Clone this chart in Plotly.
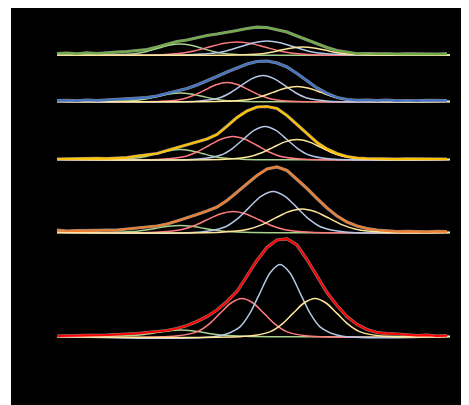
import plotly.graph_objects as go

# ---------------- data ----------------
# x grid of the measured (noisy) spectra
main_x = [57, 67, 77, 87, 97, 107, 117, 127, 137, 147, 157, 167, 177, 187, 197, 207, 217, 227, 237, 247,
          257, 267, 277, 287, 297, 307, 317, 327, 337, 347, 357, 367, 377, 387, 397, 407, 417, 427, 437, 447]

green_main = [1.5, 1.8, 1.2, 2.2, 1.5, 2.5, 2.8, 3.5, 4.5, 5.5, 8, 11, 13.5, 15, 17.5, 19.5, 21, 22.5, 24.5, 26.5,
              27.8, 27.5, 25.5, 23, 19, 15, 11.5, 7.5, 4.5, 2.5, 1.2, 1.5, 1, 1.3, 0.8, 1.2, 0.9, 1.2, 0.8, 1.1]
blue_main = [0.8, 1.2, 0.6, 1.3, 0.9, 1.5, 1.4, 2, 2.8, 3.8, 5.5, 8, 10.5, 13, 16.5, 20.5, 25, 29.5, 33.5, 37.5,
             40, 40.5, 38.5, 34.5, 28, 20.5, 13.5, 8, 4, 2, 1.2, 1.4, 0.8, 1.3, 0.7, 1, 0.6, 1.2, 0.7, 0.9]
yellow_main = [0.5, 0.8, 0.4, 1, 1.2, 0.8, 1.5, 1.8, 3.5, 4.5, 6, 9, 12, 15, 17.5, 20.5, 25, 33, 42, 48.5,
               52.5, 53, 51, 44, 35, 26, 17, 10.5, 6, 3, 1.5, 1, 0.6, 0.9, 0.4, 0.7, 0.5, 0.8, 0.3, 0.5]
orange_main = [2.5, 1.5, 1.8, 1.6, 2.2, 2.5, 2.3, 3.5, 4.2, 5.5, 6.5, 8.5, 11.5, 14.5, 18, 21.5, 25.5, 32, 40, 49,
               57, 63.5, 65.5, 62, 53.5, 44, 34, 24.5, 16.5, 10.5, 6.5, 4, 2.5, 1.5, 0.8, 1.2, 0.9, 0.7, 1.2, 0.9]
red_main = [0.5, 0.3, 0.8, 1.2, 1, 1.5, 2, 2.3, 3, 4, 5, 6, 8, 11, 15, 20, 26.5, 35, 45, 61,
            76, 89, 96.5, 97.5, 91.5, 77, 60, 44, 31, 20, 12, 7, 4, 2.8, 2.5, 1.5, 1, 1.3, 0.5, 0.8]

# fitted components (x positions, heights) per spectrum
green_c1_x = [57, 114, 136, 147, 158, 169, 180, 191, 202, 213, 224, 246, 450]
green_c1_y = [0, 0.1, 1.5, 3.6, 6.7, 9.7, 11, 9.7, 6.7, 3.6, 1.5, 0.1, 0]
green_c2_x = [57, 153, 181, 195, 209, 223, 237, 251, 265, 279, 293, 321, 450]
green_c2_y = [0, 0.1, 1.8, 4.2, 7.9, 11.5, 13, 11.5, 7.9, 4.2, 1.8, 0.1, 0]
green_c3_x = [57, 189, 215, 228, 241, 254, 267, 280, 293, 306, 319, 345, 450]
green_c3_y = [0, 0.2, 1.9, 4.6, 8.5, 12.3, 14, 12.3, 8.5, 4.6, 1.9, 0.2, 0]
green_c4_x = [57, 237, 259, 270, 281, 292, 303, 314, 325, 336, 347, 369, 450]
green_c4_y = [0, 0.1, 1.1, 2.6, 4.9, 7.1, 8, 7.1, 4.9, 2.6, 1.1, 0.1, 0]

blue_c1_x = [57, 114, 136, 147, 158, 169, 180, 191, 202, 213, 224, 246, 450]
blue_c1_y = [0, 0.1, 1.1, 2.8, 5.2, 7.5, 8.5, 7.5, 5.2, 2.8, 1.1, 0.1, 0]
blue_c2_x = [57, 161, 183, 194, 205, 216, 227, 238, 249, 260, 271, 293, 450]
blue_c2_y = [0, 0.2, 2.6, 6.2, 11.5, 16.8, 19, 16.8, 11.5, 6.2, 2.6, 0.2, 0]
blue_c3_x = [57, 197, 219, 230, 241, 252, 263, 274, 285, 296, 307, 329, 450]
blue_c3_y = [0, 0.3, 3.5, 8.5, 15.8, 22.9, 26, 22.9, 15.8, 8.5, 3.5, 0.3, 0]
blue_c4_x = [57, 225, 249, 261, 273, 285, 297, 309, 321, 333, 345, 369, 450]
blue_c4_y = [0, 0.2, 2, 4.9, 9.1, 13.2, 15, 13.2, 9.1, 4.9, 2, 0.2, 0]

yellow_c1_x = [57, 114, 136, 147, 158, 169, 180, 191, 202, 213, 224, 246, 450]
yellow_c1_y = [0, 0.1, 1.4, 3.3, 6.1, 8.8, 10, 8.8, 6.1, 3.3, 1.4, 0.1, 0]
yellow_c2_x = [57, 161, 185, 197, 209, 221, 233, 245, 257, 269, 281, 305, 450]
yellow_c2_y = [0, 0.3, 3.1, 7.5, 14, 20.3, 23, 20.3, 14, 7.5, 3.1, 0.3, 0]
yellow_c3_x = [57, 199, 221, 232, 243, 254, 265, 276, 287, 298, 309, 331, 450]
yellow_c3_y = [0, 0.4, 4.5, 10.7, 20, 29.1, 33, 29.1, 20, 10.7, 4.5, 0.4, 0]
yellow_c4_x = [57, 225, 249, 261, 273, 285, 297, 309, 321, 333, 345, 369, 450]
yellow_c4_y = [0, 0.2, 2.7, 6.5, 12.1, 17.6, 20, 17.6, 12.1, 6.5, 2.7, 0.2, 0]

orange_c1_x = [57, 108, 132, 144, 156, 168, 180, 192, 204, 216, 228, 252, 450]
orange_c1_y = [0, 0.1, 0.9, 2.3, 4.2, 6.2, 7, 6.2, 4.2, 2.3, 0.9, 0.1, 0]
orange_c2_x = [57, 155, 181, 194, 207, 220, 233, 246, 259, 272, 285, 311, 450]
orange_c2_y = [0, 0.2, 2.8, 6.8, 12.7, 18.5, 21, 18.5, 12.7, 6.8, 2.8, 0.2, 0]
orange_c3_x = [57, 201, 225, 237, 249, 261, 273, 285, 297, 309, 321, 345, 450]
orange_c3_y = [0, 0.5, 5.5, 13.3, 24.9, 36.2, 41, 36.2, 24.9, 13.3, 5.5, 0.5, 0]
orange_c4_x = [57, 221, 248, 261.5, 275, 288.5, 302, 315.5, 329, 342.5, 356, 383, 450]
orange_c4_y = [0, 0.3, 3.2, 7.6, 14.3, 20.7, 23.5, 20.7, 14.3, 7.6, 3.2, 0.3, 0]

red_c1_x = [57, 108, 132, 144, 156, 168, 180, 192, 204, 216, 228, 252, 450]
red_c1_y = [0, 0.1, 0.9, 2.1, 3.9, 5.7, 6.5, 5.7, 3.9, 2.1, 0.9, 0.1, 0]
red_c2_x = [57, 176, 198, 209, 220, 231, 242, 253, 264, 275, 286, 308, 450]
red_c2_y = [0, 0.4, 5.1, 12.4, 23.1, 33.5, 38, 33.5, 23.1, 12.4, 5.1, 0.4, 0]
red_c3_x = [57, 220, 240, 250, 260, 270, 280, 290, 300, 310, 320, 340, 450]
red_c3_y = [0, 0.8, 9.7, 23.4, 43.7, 63.5, 72, 63.5, 43.7, 23.4, 9.7, 0.8, 0]
red_c4_x = [57, 249, 271, 282, 293, 304, 315, 326, 337, 348, 359, 381, 450]
red_c4_y = [0, 0.4, 5.1, 12.4, 23.1, 33.5, 38, 33.5, 23.1, 12.4, 5.1, 0.4, 0]

# ---------------- layout / style ----------------
offsets = [350, 303.5, 245.5, 172.5, 68.5]
main_colors = ["#70ad47", "#4472c4", "#ffc000", "#ed7d31", "#ff0000"]
comp_colors = ["#a9d18e", "#ff7c80", "#b4c7e7", "#ffe699"]

spectra = [
    (green_main, [(green_c1_x, green_c1_y), (green_c2_x, green_c2_y), (green_c3_x, green_c3_y), (green_c4_x, green_c4_y)]),
    (blue_main, [(blue_c1_x, blue_c1_y), (blue_c2_x, blue_c2_y), (blue_c3_x, blue_c3_y), (blue_c4_x, blue_c4_y)]),
    (yellow_main, [(yellow_c1_x, yellow_c1_y), (yellow_c2_x, yellow_c2_y), (yellow_c3_x, yellow_c3_y), (yellow_c4_x, yellow_c4_y)]),
    (orange_main, [(orange_c1_x, orange_c1_y), (orange_c2_x, orange_c2_y), (orange_c3_x, orange_c3_y), (orange_c4_x, orange_c4_y)]),
    (red_main, [(red_c1_x, red_c1_y), (red_c2_x, red_c2_y), (red_c3_x, red_c3_y), (red_c4_x, red_c4_y)]),
]

fig = go.Figure()
for (main, comps), off, mc in zip(spectra, offsets, main_colors):
    # grey fit shadow
    fig.add_trace(go.Scatter(x=main_x, y=[off + v for v in main], mode="lines",
                             line=dict(color="#8a8a8a", width=3.2), hoverinfo="skip"))
    for (cx, cy), cc in zip(comps, comp_colors):
        fig.add_trace(go.Scatter(x=cx, y=[off + v for v in cy], mode="lines",
                                 line=dict(color=cc, width=1.5, shape="spline", smoothing=0.8),
                                 hoverinfo="skip"))
    fig.add_trace(go.Scatter(x=main_x, y=[off + v for v in main], mode="lines",
                             line=dict(color=mc, width=2.2), hoverinfo="skip"))

# the page body has an 8 px margin; size the figure so the black panel spans x 11..469, y 8..405
fig.update_layout(
    width=461, height=397,
    margin=dict(l=3, r=0, t=0, b=0),
    paper_bgcolor="white", plot_bgcolor="black",
    showlegend=False,
    xaxis=dict(range=[11, 469], visible=False, fixedrange=True),
    yaxis=dict(range=[0, 397], visible=False, fixedrange=True),
)
fig.write_html("out.html")
